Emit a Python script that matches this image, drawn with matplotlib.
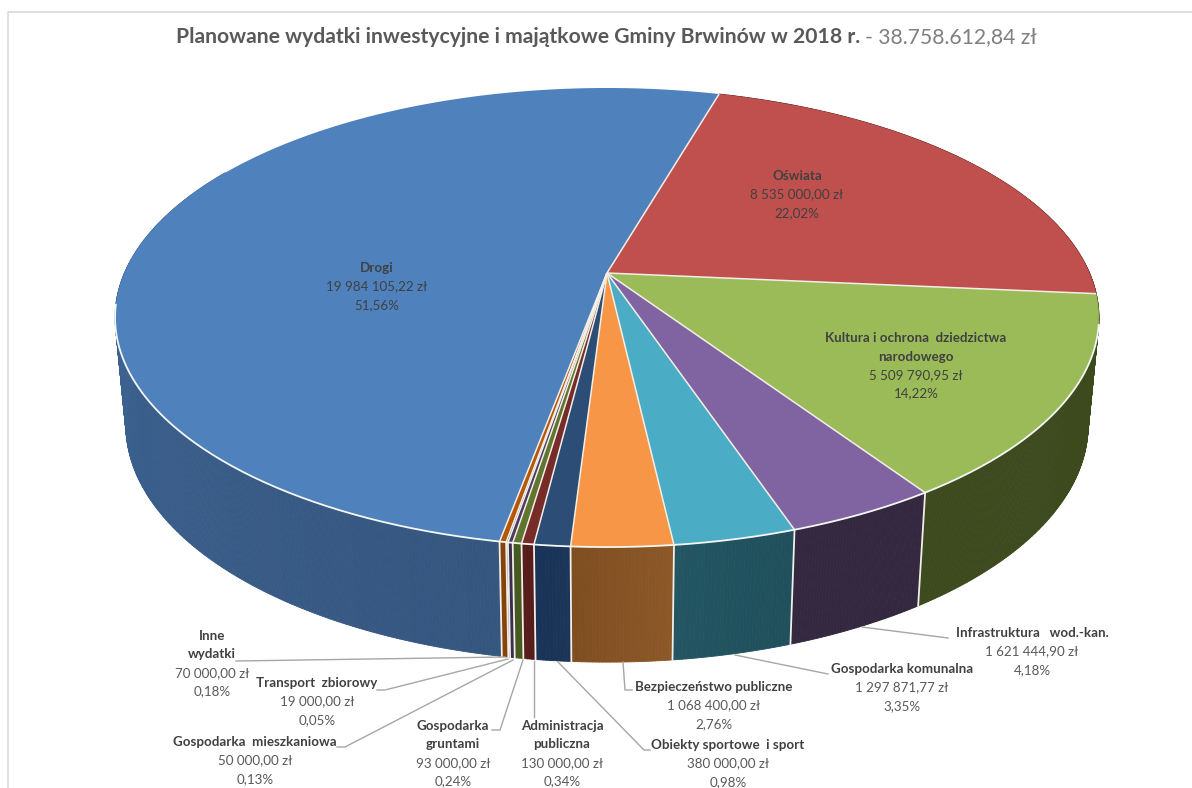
import numpy as np
import matplotlib
matplotlib.use("Agg")
import matplotlib.pyplot as plt
from matplotlib.collections import PolyCollection
from matplotlib.colors import to_rgb

# DATA (clockwise from the Oswiata slice)
nazwy = ["Oświata", "Kultura i ochrona  dziedzictwa\nnarodowego", "Infrastruktura   wod.-kan.",
         "Gospodarka komunalna", "Bezpieczeństwo publiczne", "Obiekty sportowe  i sport",
         "Administracja\npubliczna", "Gospodarka\ngruntami", "Gospodarka  mieszkaniowa",
         "Transport  zbiorowy", "Inne\nwydatki", "Drogi"]
wartosci = [8535000.00, 5509790.95, 1621444.90, 1297871.77, 1068400.00, 380000.00,
            130000.00, 93000.00, 50000.00, 19000.00, 70000.00, 19984105.22]
kwoty = ["8 535 000,00 zł", "5 509 790,95 zł", "1 621 444,90 zł", "1 297 871,77 zł",
         "1 068 400,00 zł", "380 000,00 zł", "130 000,00 zł", "93 000,00 zł",
         "50 000,00 zł", "19 000,00 zł", "70 000,00 zł", "19 984 105,22 zł"]
procenty = ["22,02%", "14,22%", "4,18%", "3,35%", "2,76%", "0,98%",
            "0,34%", "0,24%", "0,13%", "0,05%", "0,18%", "51,56%"]

kolory_gora = ["#c0504d", "#9bbb59", "#8064a2", "#4bacc6", "#f79646", "#2c4d75",
               "#772c2a", "#5f7530", "#4d3b62", "#276a7c", "#b65708", "#4f81bd"]
bok_od = ["#5e2725", "#3d4a1e", "#33283f", "#1f505c", "#8c5828", "#1b3659",
          "#571d1b", "#46591f", "#392c4a", "#1d4f5d", "#85430a", "#35567f"]
bok_do = ["#5e2725", "#3d4a1e", "#33283f", "#225662", "#7f4e20", "#1a3358",
          "#571d1b", "#46591f", "#392c4a", "#1d4f5d", "#85430a", "#4874aa"]

# etykiety: srodek tekstu, y pierwszej linii, punkty linii odniesienia
etykiety = {
    2: (1032, 633, [(948, 638), (862, 627)]),
    3: (902, 669, [(828, 674), (735, 655)]),
    4: (714, 687, [(632, 690), (625, 690), (623, 662)]),
    5: (728, 745, [(650, 750), (644, 750), (558, 662)]),
    6: (562, 726, [(534, 717), (534, 661)]),
    7: (453, 726, [(492, 730), (500, 730), (523, 660)]),
    8: (255, 742, [(337, 747), (345, 747), (513, 660)]),
    9: (317, 683, [(377, 690), (385, 690), (508, 659)]),
    10: (212, 636, [(236, 661), (505, 657)]),
}
na_kole = {0: (797, 176), 1: (916, 338), 11: (377, 268)}

plt.rcParams["font.family"] = ["Lato", "DejaVu Sans"]

CX, CY, A, B, K = 607, 273, 482.6, 220.9, -0.194
CY_DOL, SX_DOL, SY_DOL = 379, 0.978, 1.033
START = 16.0


def gora(kat):
    x, y = np.sin(np.radians(kat)), -np.cos(np.radians(kat))
    w = 1 + K * y
    return CX + A * x / w, CY + B * y / w


def dol(kat):
    x, y = np.sin(np.radians(kat)), -np.cos(np.radians(kat))
    w = 1 + K * y
    return CX + SX_DOL * A * x / w, CY_DOL + SY_DOL * B * y / w


fig = plt.figure(figsize=(11.92, 7.88), dpi=100)
ax = fig.add_axes([0, 0, 1, 1])
ax.set_xlim(0, 1192)
ax.set_ylim(788, 0)
ax.axis("off")

# ramka
ax.plot([7.5, 7.5, 1192], [788, 11.5, 11.5], color="#d9d9d9", lw=1.2, zorder=1)

katy = START + np.concatenate([[0], np.cumsum(wartosci)]) / sum(wartosci) * 360

# boki
for i in range(len(wartosci)):
    a0, a1 = katy[i], katy[i + 1]
    if a1 < 60 or a0 > 300:
        continue
    t = np.linspace(a0, a1, max(int((a1 - a0) * 3), 2) + 1)
    quady, kol = [], []
    c0, c1 = np.array(to_rgb(bok_od[i])), np.array(to_rgb(bok_do[i]))
    for j in range(len(t) - 1):
        if t[j + 1] > 300:
            break
        xg, yg = gora(t[j:j + 2])
        xd, yd = dol(t[j:j + 2])
        quady.append([(xg[0], yg[0]), (xg[1], yg[1]), (xd[1], yd[1]), (xd[0], yd[0])])
        kol.append(c0 + (c1 - c0) * (j / max(len(t) - 2, 1)))
    ax.add_collection(PolyCollection(quady, facecolors=kol, edgecolors=kol, linewidths=0.6, zorder=2))
    # linia miedzy bokami
    if 110 < a1 < 262:
        xg, yg = gora(a1)
        xd, yd = dol(a1)
        ax.plot([xg, xd], [yg, yd], color="#f2eeea", lw=1.3, zorder=3)

# gorna powierzchnia
for i in range(len(wartosci)):
    t = np.linspace(katy[i], katy[i + 1], max(int(katy[i + 1] - katy[i]) * 2, 3))
    xs, ys = gora(t)
    ax.fill(np.r_[CX, xs], np.r_[CY, ys], color=kolory_gora[i], lw=0, zorder=4)

# biala krawedz z przodu i linie miedzy wycinkami
t = np.linspace(103, 262, 300)
xs, ys = gora(t)
ax.plot(xs, ys, color="#f4f7f4", lw=1.3, zorder=5)
for kat in katy[:-1]:
    x, y = gora(kat)
    ax.plot([CX, x], [CY, y], color="#f3eee6", lw=1.1, zorder=5, solid_capstyle="butt")

ROZMIAR = 9.6
LINIA = 18.5


def opis(i, xc, y0, kolor_wartosci="#595959"):
    linie = nazwy[i].split("\n")
    for n, linia in enumerate(linie):
        ax.text(xc, y0 + n * LINIA, linia, ha="center", va="center", fontsize=ROZMIAR,
                fontweight="bold", color="#404040", zorder=7)
    n = len(linie)
    ax.text(xc, y0 + n * LINIA, kwoty[i], ha="center", va="center", fontsize=ROZMIAR,
            color=kolor_wartosci, zorder=7)
    ax.text(xc, y0 + (n + 1) * LINIA, procenty[i], ha="center", va="center", fontsize=ROZMIAR,
            color=kolor_wartosci, zorder=7)


for i, (xc, y0) in na_kole.items():
    opis(i, xc, y0, kolor_wartosci="#404040")

for i, (xc, y0, punkty) in etykiety.items():
    opis(i, xc, y0)
    ax.plot([p[0] for p in punkty], [p[1] for p in punkty], color="#a6a6a6", lw=1.0, zorder=6)

# tytul z dwoch kawalkow
t1 = ax.text(176, 37, "Planowane wydatki inwestycyjne i majątkowe Gminy Brwinów w 2018 r.", ha="left",
             va="center", fontsize=15.2, fontweight="bold", color="#595959", zorder=7)
fig.canvas.draw()
x_konca = ax.transData.inverted().transform(t1.get_window_extent().get_points())[1, 0]
ax.text(x_konca + 5, 37, "- 38.758.612,84 zł", ha="left", va="center", fontsize=15.2,
        color="#7f7f7f", zorder=7)

fig.savefig("out.png", dpi=100, facecolor="white")
